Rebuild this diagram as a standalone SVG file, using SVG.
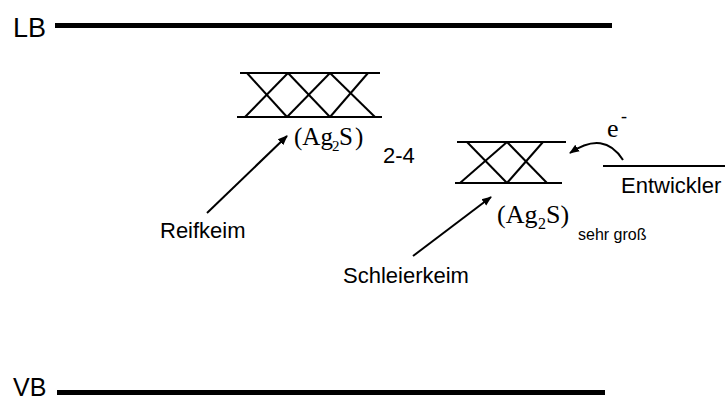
<svg xmlns="http://www.w3.org/2000/svg" width="725" height="401" viewBox="0 0 725 401">
<defs>
<style>
.band{stroke:#000;stroke-width:5;fill:none}
.grid{stroke:#000;stroke-width:2;fill:none}
.arr{stroke:#000;stroke-width:2;fill:none}
.sans{font-family:"Liberation Sans",Arial,sans-serif;fill:#000}
.serif{font-family:"Liberation Serif","Times New Roman",serif;fill:#000}
</style>
<marker id="ah2" viewBox="0 0 10 10" refX="9" refY="5" markerWidth="10" markerHeight="10" orient="auto" markerUnits="userSpaceOnUse">
<path d="M0,1 L10,5 L0,9 z" fill="#000"/>
</marker>
</defs>
<rect width="725" height="401" fill="#fff"/>

<g id="lb">
<text class="sans" x="13" y="37" font-size="27">LB</text>
<line class="band" x1="55" y1="25.5" x2="612" y2="25.5"/>
</g>

<g id="vb">
<text class="sans" x="13" y="396" font-size="25">VB</text>
<line class="band" x1="57" y1="392.5" x2="605" y2="392.5"/>
</g>

<g id="reifkeim-cluster">
<line class="grid" x1="240" y1="73" x2="380" y2="73"/>
<line class="grid" x1="237" y1="117" x2="382" y2="117"/>
<line class="grid" x1="247" y1="73" x2="287" y2="117"/>
<line class="grid" x1="288" y1="73" x2="245" y2="117"/>
<line class="grid" x1="288" y1="73" x2="330" y2="117"/>
<line class="grid" x1="330" y1="73" x2="287" y2="117"/>
<line class="grid" x1="330" y1="73" x2="375" y2="117"/>
<line class="grid" x1="368" y1="73" x2="330" y2="117"/>
<text class="serif" y="145" font-size="25"><tspan x="294">(Ag</tspan><tspan x="332" y="151" font-size="15">2</tspan><tspan x="339" y="145" letter-spacing="2">S)</tspan></text>
<text class="sans" x="383" y="163" font-size="22">2-4</text>
</g>

<g id="schleierkeim-cluster">
<line class="grid" x1="457" y1="142" x2="566" y2="142"/>
<line class="grid" x1="455" y1="183" x2="562" y2="183"/>
<line class="grid" x1="467" y1="142" x2="507" y2="183"/>
<line class="grid" x1="507" y1="142" x2="460" y2="183"/>
<line class="grid" x1="507" y1="142" x2="547" y2="183"/>
<line class="grid" x1="543" y1="142" x2="507" y2="183"/>
<text class="serif" y="223" font-size="26"><tspan x="497">(Ag</tspan><tspan x="538" y="229" font-size="16">2</tspan><tspan x="546" y="223">S)</tspan></text>
<text class="sans" x="578" y="240" font-size="16">sehr groß</text>
</g>

<g id="reifkeim">
<text class="sans" x="160" y="238" font-size="22">Reifkeim</text>
</g>

<g id="schleierkeim">
<text class="sans" x="343" y="283" font-size="22">Schleierkeim</text>
</g>

<g id="entwickler">
<line x1="603" y1="166" x2="725" y2="166" stroke="#000" stroke-width="2"/>
<text class="sans" x="621" y="193" font-size="22">Entwickler</text>
</g>

<g id="electron">
<text class="serif" x="607" y="137" font-size="26">e</text>
<text class="serif" x="621" y="122" font-size="18">-</text>
</g>

<g id="connectors">
<line class="arr" x1="207" y1="213" x2="287" y2="136" marker-end="url(#ah2)"/>
<line class="arr" x1="413" y1="256" x2="491" y2="197" marker-end="url(#ah2)"/>
<path class="arr" d="M623,160 Q604,130 570,153" marker-end="url(#ah2)"/>
</g>
</svg>
